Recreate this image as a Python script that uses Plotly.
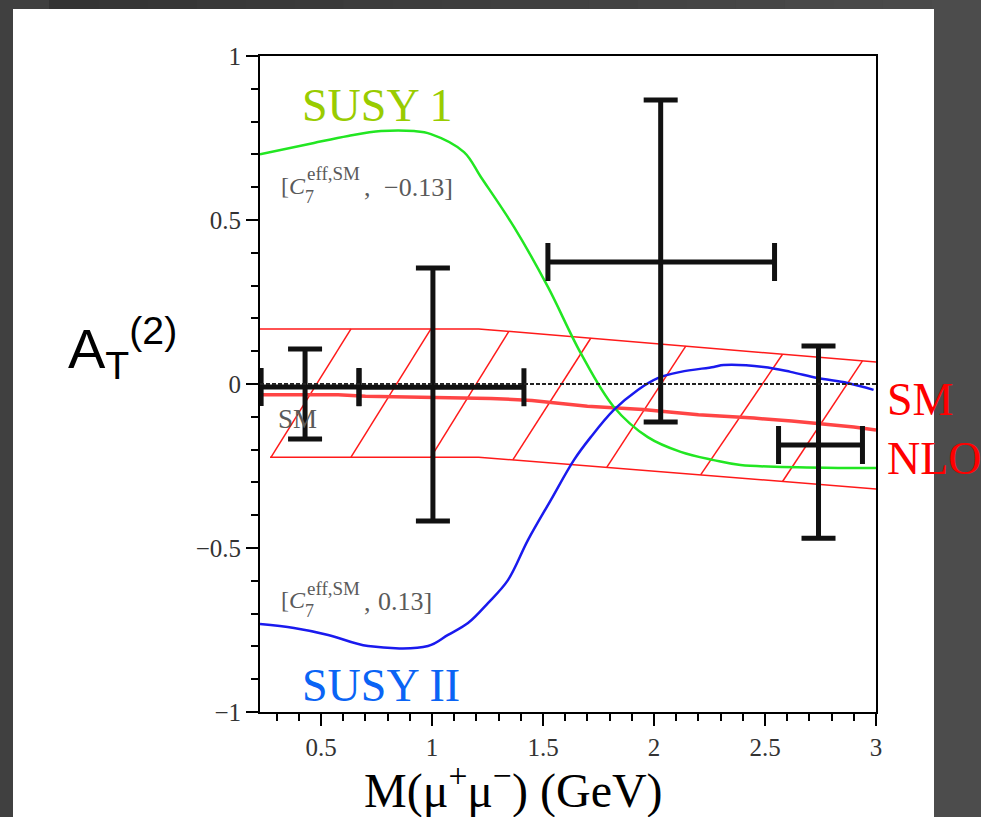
import numpy as np
import plotly.graph_objects as go

# ---------------- data ----------------
susy1_x = [0.225, 0.468, 0.622, 0.770, 0.919, 0.995, 1.144, 1.220, 1.369, 1.522, 1.670,
           1.819, 1.972, 2.120, 2.269, 2.390, 2.840, 3.0]
susy1_y = [0.700, 0.735, 0.756, 0.771, 0.771, 0.762, 0.707, 0.631, 0.479, 0.296, 0.094,
           -0.070, -0.162, -0.207, -0.232, -0.247, -0.256, -0.256]

susy2_x = [0.225, 0.378, 0.532, 0.712, 0.982, 1.072, 1.162, 1.252, 1.342, 1.432, 1.535,
           1.639, 1.715, 1.819, 1.927, 2.017, 2.120, 2.269, 2.314, 2.494, 2.615, 2.737,
           2.872, 2.989]
susy2_y = [-0.732, -0.744, -0.765, -0.799, -0.799, -0.765, -0.729, -0.668, -0.598, -0.476,
           -0.354, -0.232, -0.162, -0.079, -0.018, 0.018, 0.037, 0.052, 0.058, 0.052, 0.037,
           0.018, 0.003, -0.018]

sm_x = [0.225, 0.577, 0.70, 1.0, 1.265, 1.45, 1.70, 1.95, 2.20, 2.45, 2.62, 2.90, 3.0]
sm_y = [-0.033, -0.033, -0.037, -0.040, -0.044, -0.050, -0.068, -0.078, -0.094, -0.104,
        -0.113, -0.131, -0.140]

band_upper_x = [0.225, 1.21, 3.0]
band_upper_y = [0.168, 0.168, 0.067]
band_lower_x = [0.27, 1.21, 3.0]
band_lower_y = [-0.223, -0.223, -0.320]

hatch_bottom_x = [0.275, 0.635, 0.995, 1.364, 1.787, 2.210, 2.579]
hatch_top_x = [0.635, 0.995, 1.346, 1.715, 2.143, 2.579, 2.939]

meas_x = [0.428, 1.004, 2.030, 2.741]
meas_y = [-0.009, -0.010, 0.372, -0.186]
meas_x_minus = [0.198, 0.333, 0.508, 0.180]
meas_x_plus = [0.243, 0.410, 0.513, 0.198]
meas_y_plus = [0.116, 0.364, 0.494, 0.302]
meas_y_minus = [0.159, 0.408, 0.488, 0.284]

x_range = [0.225, 3.0]
y_range = [-1.0, 1.0]

# ---------------- figure geometry ----------------
W, H = 981, 817
L, R, T, B = 260, 105, 56, 105
PW, PH = W - L - R, H - T - B


def px(xp):
    return (xp - L) / PW


def py(yp):
    return (H - B - yp) / PH


fig = go.Figure()

# hatched band
hx, hy = [], []
for xb, xt in zip(hatch_bottom_x, hatch_top_x):
    hx += [xb, xt, None]
    hy += [float(np.interp(xb, band_lower_x, band_lower_y)),
           float(np.interp(xt, band_upper_x, band_upper_y)), None]
fig.add_trace(go.Scatter(x=hx, y=hy, mode="lines", line=dict(color="#ff1a1a", width=1.5),
                         hoverinfo="skip", showlegend=False))
fig.add_trace(go.Scatter(x=band_upper_x, y=band_upper_y, mode="lines",
                         line=dict(color="#ff1a1a", width=1.5), showlegend=False))
fig.add_trace(go.Scatter(x=band_lower_x, y=band_lower_y, mode="lines",
                         line=dict(color="#ff1a1a", width=1.5), showlegend=False))

# zero reference
fig.add_hline(y=0, line=dict(color="#222222", width=2, dash="4px,2px"))

# SM NLO central
fig.add_trace(go.Scatter(x=sm_x, y=sm_y, mode="lines", line=dict(color="#ff4545", width=3.5),
                         showlegend=False))
# SUSY curves
fig.add_trace(go.Scatter(x=susy1_x, y=susy1_y, mode="lines", line=dict(color="#22e622", width=2.5),
                         line_shape="spline", showlegend=False))
fig.add_trace(go.Scatter(x=susy2_x, y=susy2_y, mode="lines", line=dict(color="#1a1aee", width=2.5),
                         line_shape="spline", showlegend=False))

# measurements with error bars
fig.add_trace(go.Scatter(
    x=meas_x, y=meas_y, mode="markers", marker=dict(size=1, color="rgba(0,0,0,0)"),
    cliponaxis=False, showlegend=False,
    error_x=dict(type="data", symmetric=False, array=meas_x_plus, arrayminus=meas_x_minus,
                 color="#111111", thickness=5, width=19),
    error_y=dict(type="data", symmetric=False, array=meas_y_plus, arrayminus=meas_y_minus,
                 color="#111111", thickness=5, width=17),
))

# background: gray gradient + white sheet
shapes = []
n = 20
for i in range(n):
    c = int(0x33 + (0x4c - 0x33) * i / (n - 1))
    col = f"rgb({c},{c},{c})"
    x0p = W * i / n
    x1p = W * (i + 1) / n + 1
    shapes.append(dict(type="rect", xref="paper", yref="paper", x0=px(x0p), x1=px(x1p),
                       y0=py(H), y1=py(0), fillcolor=col, line=dict(width=0), layer="below"))
shapes.append(dict(type="rect", xref="paper", yref="paper", x0=px(13), x1=px(934),
                   y0=py(H + 5), y1=py(9), fillcolor="white", line=dict(width=0), layer="below"))

serif = "Liberation Serif, Times New Roman, serif"
ann = []


def text(t, xp, yp, size, color, family=serif, xanchor="left"):
    ann.append(dict(text=t, x=px(xp), y=py(yp), xref="paper", yref="paper", showarrow=False,
                    xanchor=xanchor, yanchor="middle", font=dict(size=size, color=color, family=family)))


text("SUSY 1", 300, 106, 46, "#99cc00")
text("SUSY II", 300, 685, 46, "#0a64f5")
text("SM", 885, 399, 46, "#ff0000")
text("NLO", 885, 459, 46, "#ff0000")
text("M(μ<sup>+</sup>μ<sup>−</sup>) (GeV)", 513, 787, 48, "#000000", xanchor="center")
text("A<sub>T</sub><sup>(2)</sup>", 66, 348, 56, "#000000", family="Liberation Sans, Arial, sans-serif")

gray = "#5a5a5a"
text("[<i>C</i>", 279, 186, 24, gray)
text("eff,SM", 305, 173, 19, gray)
text("7", 303, 197, 18, gray)
text(",", 362, 188, 26, gray)
text("−0.13]", 382, 187, 26, gray)

text("[<i>C</i>", 279, 600, 24, gray)
text("eff,SM", 305, 588, 19, gray)
text("7", 303, 611, 18, gray)
text(",", 362, 602, 26, gray)
text("0.13]", 376, 601, 26, gray)

text("SM", 276, 419, 27, gray)

axis_common = dict(showline=True, linecolor="black", linewidth=2, mirror=True,
                   ticks="outside", ticklen=12, tickwidth=2, tickcolor="black",
                   showgrid=False, zeroline=False,
                   tickfont=dict(family=serif, size=25, color="#333333"))

fig.update_layout(
    width=W, height=H, margin=dict(l=L, r=R, t=T, b=B),
    paper_bgcolor="#404040", plot_bgcolor="white",
    shapes=shapes, annotations=ann, showlegend=False,
    xaxis=dict(range=x_range, tick0=0, dtick=0.5,
               minor=dict(dtick=0.1, tick0=0, ticks="outside", ticklen=7, tickwidth=2,
                          tickcolor="black", showgrid=False),
               **axis_common),
    yaxis=dict(range=y_range, tick0=0, dtick=0.5,
               minor=dict(dtick=0.1, tick0=0, ticks="outside", ticklen=7, tickwidth=2,
                          tickcolor="black", showgrid=False),
               **axis_common),
)

fig.write_html("out.html")
